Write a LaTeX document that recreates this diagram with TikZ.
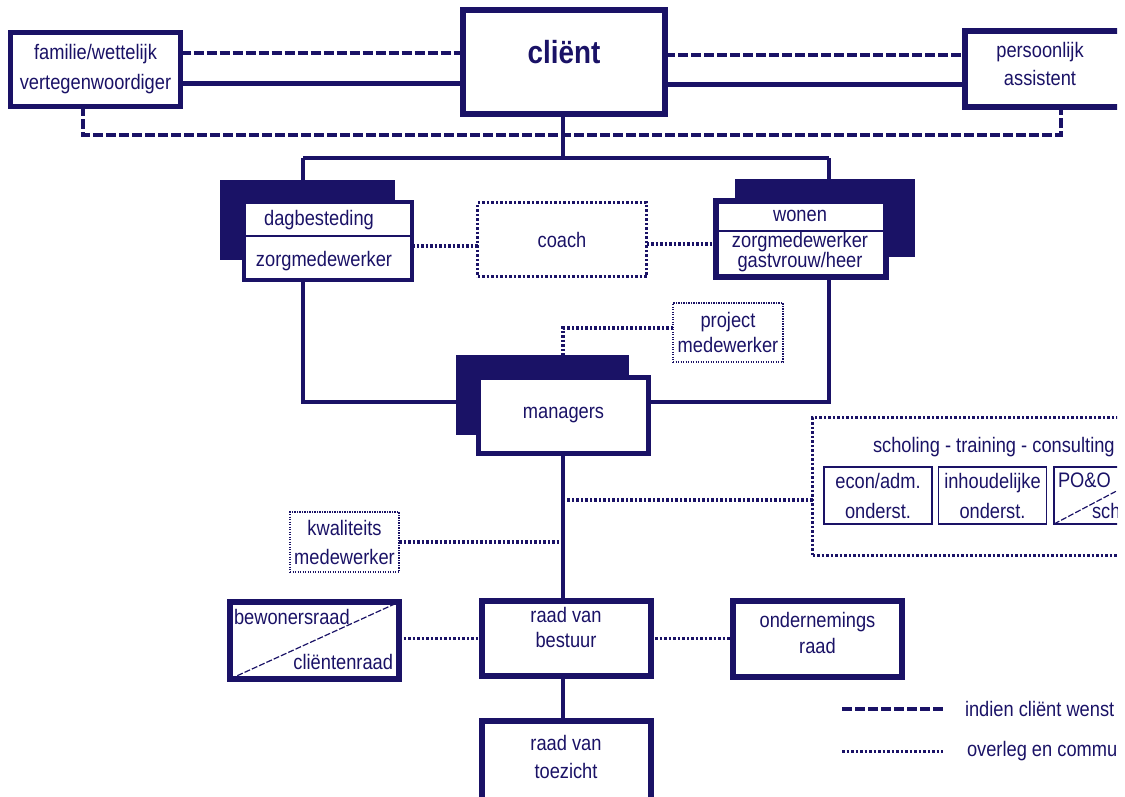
\documentclass[tikz,border=0pt]{standalone}
\usepackage{fontspec}
\setmainfont[FakeStretch=0.87]{Liberation Sans}
\definecolor{navy}{RGB}{26,18,102}
\begin{document}
\begin{tikzpicture}[x=1pt,y=-1pt,
    every node/.style={text=navy,font=\fontsize{21}{25}\selectfont,align=center,inner sep=0pt,outer sep=0pt},
    box/.style={draw=navy,fill=white,line width=5pt,minimum width=170pt,minimum height=76pt},
    backbox/.style={fill=navy},
    dotbox/.style={draw=navy,line width=3pt,dash pattern=on 2.5pt off 2pt},
    thindot/.style={draw=navy,line width=1.2pt,dash pattern=on 1.2pt off 1.3pt},
    thinbox/.style={draw=navy,line width=1.6pt,minimum width=108pt,minimum height=57pt},
    link/.style={draw=navy,line width=3.5pt},
    indien/.style={draw=navy,line width=4pt,dash pattern=on 10pt off 3pt},
    overleg/.style={draw=navy,line width=3.5pt,dash pattern=on 2.5pt off 2pt},
    diag/.style={draw=navy,line width=1.2pt,dash pattern=on 6pt off 2pt}]
  \useasboundingbox (0,0) rectangle (1125,796);
  \clip (0,0) rectangle (1117,796);
  % top row
  \node[box,line width=6pt,minimum width=202pt,minimum height=104pt,text depth=20pt] (client) at (564,62)
       {\fontsize{32}{36}\selectfont\bfseries cliënt};
  \node[box,minimum width=170pt,minimum height=74pt] (fam) at (95.5,69) {familie/wettelijk\\[5pt]vertegenwoordiger};
  \node[box,line width=6pt,minimum width=180pt,minimum height=76pt] (pa) at (1055,69) {};
  \node (paT) at (1040,64) {persoonlijk\\[3pt]assistent};
  \coordinate (split) at (563,158);
  \coordinate (barL) at (303,158);
  \coordinate (barR) at (829,158);
  % dagbesteding / coach / wonen
  \node[backbox,minimum width=175pt,minimum height=80pt] (dagS) at (307.5,220) {};
  \node[box,line width=4pt,minimum width=168pt,minimum height=78pt] (dag) at (328,241) {};
  \draw[navy,line width=1.5pt] (dag.west |- 0,236) -- (dag.east |- 0,236);
  \node (dagT) at (319,220) {dagbesteding};
  \node (dagZ) at (324,261) {zorgmedewerker};
  \node[backbox,minimum width=180pt,minimum height=78pt] (wonS) at (825,218) {};
  \node[box,line width=6pt,minimum width=170pt,minimum height=76pt] (won) at (801,239) {};
  \draw[navy,line width=1.5pt] (won.west |- 0,231) -- (won.east |- 0,231);
  \node (wonT) at (800,216) {wonen};
  \node (wonZ) at (800,252) {zorgmedewerker\\[-5pt]gastvrouw/heer};
  \node[dotbox,minimum width=169pt,minimum height=74pt] (coach) at (562,239.5) {coach};
  % managers
  \node[backbox,minimum width=173pt,minimum height=80pt] (mgrS) at (542.5,395) {};
  \node[box,minimum width=170pt,minimum height=76pt] (mgr) at (563.5,415.5) {managers};
  \node[thindot,minimum width=110pt,minimum height=59pt] (proj) at (728,332.5) {project\\medewerker};
  % scholing
  \node[dotbox,minimum width=327pt,minimum height=138pt] (sch) at (976,486.5) {};
  \node[anchor=west] (schT) at (873,447) {scholing - training - consulting};
  \node[thinbox] (econ) at (878,495.5) {econ/adm.\\[5pt]onderst.};
  \node[thinbox] (inh) at (992.5,495.5) {inhoudelijke\\[5pt]onderst.};
  \node[thinbox] (poo) at (1108,495.5) {};
  \draw[diag] (poo.south west) -- (poo.north east);
  \node[anchor=west] (pooT) at (1058,480) {PO\&O};
  \node[anchor=west] (pooS) at (1092,511) {sch};
  \node[thindot,minimum width=109pt,minimum height=60pt] (kwal) at (344.5,542) {kwaliteits\\[4pt]medewerker};
  % raden
  \node[box,line width=6pt,minimum width=169pt,minimum height=77pt] (bew) at (314.5,640.5) {};
  \draw[diag] (bew.south west) -- (bew.north east);
  \node[anchor=west] (bewT) at (234,617) {bewonersraad};
  \node[anchor=east] (bewC) at (393,662) {cliëntenraad};
  \node[box,line width=6pt,minimum width=169pt,minimum height=75pt,text depth=22pt] (rvb) at (566,638.5) {raad van\\bestuur};
  \node[box,line width=6pt,minimum width=169pt,minimum height=76pt,text depth=12pt] (or) at (817.5,639) {ondernemings\\[1pt]raad};
  \node[box,line width=6pt,minimum width=169pt,minimum height=79pt,text depth=7pt] (rvt) at (566,760.5) {raad van\\[3pt]toezicht};
  % lines
  \draw[indien] (fam.east |- 0,53) -- (client.west |- 0,53);
  \draw[link,line width=5pt] (fam.east |- 0,83) -- (client.west |- 0,83);
  \draw[indien] (client.east |- 0,55) -- (pa.west |- 0,55);
  \draw[link,line width=5pt] (client.east |- 0,84) -- (pa.west |- 0,84);
  \draw[indien] (83,0 |- fam.south) |- (1061,135) -- (1061,0 |- pa.south);
  \draw[link] (client.south -| split) -- (split);
  \draw[link] (barL) -- (barR);
  \draw[link] (barL) -- (barL |- dagS.north);
  \draw[link] (barR) -- (barR |- wonS.north);
  \draw[link] (barL |- dag.south) |- (mgrS.west |- 0,402);
  \draw[link] (barR |- won.south) |- (mgr.east |- 0,402);
  \draw[link] (split |- mgr.south) -- (split |- rvb.north);
  \draw[link] (split |- rvb.south) -- (split |- rvt.north);
  \draw[overleg] (dag.east |- 0,246) -- (coach.west |- 0,246);
  \draw[overleg] (coach.east |- 0,244) -- (won.west |- 0,244);
  \draw[overleg] (proj.west |- 0,328) -| (split |- mgrS.north);
  \coordinate (tSch) at (563,500);
  \draw[overleg] (sch.west |- tSch) -- (tSch);
  \draw[overleg] (kwal.east) -- (kwal.east -| split);
  \draw[overleg] (bew.east |- rvb.west) -- (rvb.west);
  \draw[overleg] (rvb.east) -- (or.west |- rvb.east);
  % legenda
  \coordinate (leg1a) at (842,709);
  \coordinate (leg1b) at (943,709);
  \coordinate (leg2a) at (842,751);
  \coordinate (leg2b) at (943,751);
  \draw[indien] (leg1a) -- (leg1b);
  \draw[overleg,line width=3pt] (leg2a) -- (leg2b);
  \node[anchor=west] (leg1T) at (965,709) {indien cliënt wenst};
  \node[anchor=west] (leg2T) at (967,751) {overleg en commu};
\end{tikzpicture}
\end{document}
